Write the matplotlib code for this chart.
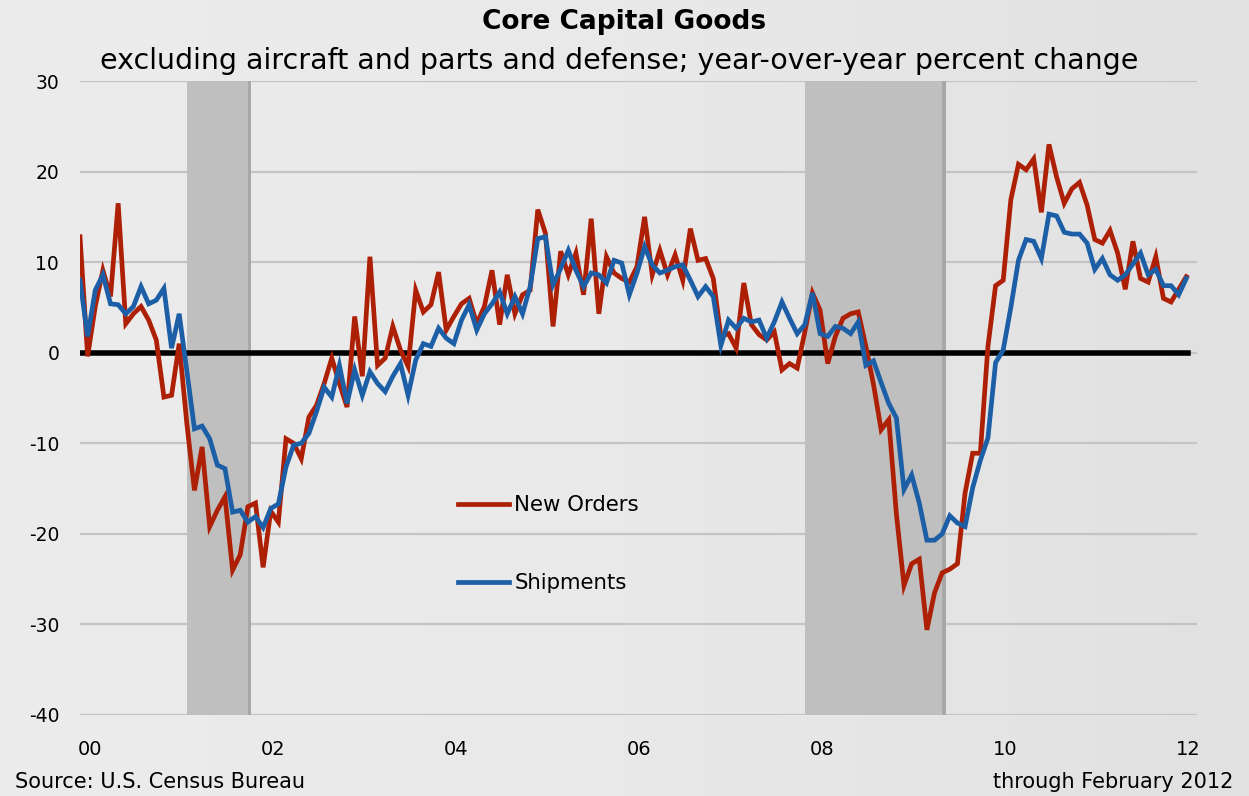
import numpy as np
import matplotlib
matplotlib.use("Agg")
import matplotlib.pyplot as plt
from matplotlib.colors import LinearSegmentedColormap

# Monthly data, Jan 2000 - Feb 2012 (year-over-year % change)
start_year = 2000
new_orders = [
    12.8, -0.4, 5.1, 9.1, 6.2, 16.5, 3.2, 4.3, 5.1, 3.6, 1.4, -4.9,
    -4.7, 1.0, -7.8, -15.2, -10.4, -19.2, -17.4, -15.9, -24.0, -22.3, -17.0, -16.6,
    -23.7, -17.5, -18.7, -9.5, -10.0, -11.7, -7.1, -5.8, -3.4, -0.6, -3.4, -6.0,
    4.0, -2.6, 10.6, -1.4, -0.6, 2.9, 0.3, -1.5, 6.9, 4.5, 5.3, 8.9,
    2.5, 4.0, 5.4, 6.0, 3.2, 5.1, 9.1, 3.1, 8.6, 4.3, 6.4, 6.9,
    15.8, 13.2, 2.9, 11.2, 8.6, 11.0, 6.4, 14.8, 4.3, 10.6, 8.8, 8.2,
    7.8, 9.5, 15.0, 8.6, 11.3, 8.6, 10.8, 8.0, 13.7, 10.2, 10.4, 8.2,
    1.8, 2.1, 0.5, 7.7, 3.1, 2.0, 1.4, 2.3, -1.9, -1.2, -1.7, 2.3,
    6.6, 4.7, -1.2, 1.8, 3.8, 4.3, 4.5, 0.7, -3.5, -8.5, -7.4, -17.8,
    -25.7, -23.3, -22.8, -30.6, -26.5, -24.3, -23.9, -23.3, -15.5, -11.1, -11.1, 0.7,
    7.4, 8.0, 16.9, 20.8, 20.2, 21.4, 15.5, 23.0, 19.4, 16.5, 18.1, 18.8,
    16.3, 12.5, 12.1, 13.5, 11.0, 7.0, 12.3, 8.2, 7.8, 10.6, 6.0, 5.6,
    7.0, 8.4,
]
shipments = [
    8.0, 1.8, 6.9, 8.6, 5.4, 5.3, 4.3, 5.1, 7.3, 5.4, 5.8, 7.1,
    0.5, 4.3, -2.0, -8.4, -8.1, -9.5, -12.4, -12.8, -17.6, -17.4, -18.7, -18.1,
    -19.3, -17.2, -16.7, -12.6, -10.2, -10.0, -8.9, -6.5, -3.8, -4.9, -1.4, -5.6,
    -1.9, -4.7, -2.1, -3.4, -4.3, -2.6, -1.2, -4.7, -0.8, 1.0, 0.7, 2.7,
    1.6, 1.0, 3.6, 5.3, 2.5, 4.3, 5.4, 6.7, 4.3, 6.2, 4.3, 7.3,
    12.6, 12.8, 7.5, 9.3, 11.3, 9.1, 7.3, 8.8, 8.6, 7.7, 10.2, 9.9,
    6.4, 8.8, 11.7, 9.7, 8.8, 9.1, 9.5, 9.7, 8.0, 6.2, 7.3, 6.2,
    0.8, 3.6, 2.7, 3.8, 3.4, 3.6, 1.6, 3.4, 5.6, 3.8, 2.1, 3.1,
    6.6, 2.1, 1.8, 2.9, 2.7, 2.1, 3.4, -1.4, -0.9, -3.3, -5.6, -7.2,
    -15.1, -13.5, -16.6, -20.7, -20.7, -20.0, -18.0, -18.8, -19.2, -14.9, -11.9, -9.4,
    -1.1, 0.3, 5.0, 10.2, 12.5, 12.3, 10.4, 15.3, 15.1, 13.3, 13.1, 13.1,
    12.1, 9.2, 10.4, 8.6, 8.0, 8.6, 9.8, 11.0, 8.6, 9.2, 7.4, 7.4,
    6.4, 8.2,
]
recessions = [(2001 + 2/12, 2001 + 10/12), (2007 + 11/12, 2009 + 5/12)]
tick_years = [2000, 2002, 2004, 2006, 2008, 2010, 2012]
tick_labels = ["00", "02", "04", "06", "08", "10", "12"]
y_ticks = [30, 20, 10, 0, -10, -20, -30, -40]

x = start_year + np.arange(len(new_orders)) / 12.0

W, H = 1249, 796
fig = plt.figure(figsize=(W / 100, H / 100), dpi=100)
fig.patch.set_facecolor("#e8e8e8")

# subtle background gradient
bg = fig.add_axes([0, 0, 1, 1], zorder=-10)
grad = np.linspace(0, 1, 256)[None, :]
cmap = LinearSegmentedColormap.from_list("bg", ["#ececec", "#e9e9e9", "#e1e1e1"])
bg.imshow(grad, aspect="auto", cmap=cmap, extent=[0, 1, 0, 1])
bg.axis("off")

ax = fig.add_axes([80 / W, 1 - 715 / H, (1197 - 80) / W, (715 - 81) / H])
ax.set_facecolor("none")
ax.set_xlim(2000, 2000 + 146.4 / 12)
ax.set_ylim(-40, 30)

for s in ax.spines.values():
    s.set_visible(False)

ax.set_yticks(y_ticks)
ax.set_yticklabels([str(v) for v in y_ticks], fontsize=13.5)
ax.yaxis.grid(True, color="#c4c4c4", lw=1.6, zorder=0)
ax.set_axisbelow(True)
ax.tick_params(axis="y", length=0, pad=15)
ax.set_xticks([y + 1.3 / 12 for y in tick_years])
ax.set_xticklabels(tick_labels, fontsize=14)
ax.tick_params(axis="x", length=0, pad=18)

for (a, b) in recessions:
    ax.axvspan(a, b, color="#bfbfbf", zorder=1, lw=0)
    ax.axvspan(b, b + 0.45 / 12, color="#a8a8a8", zorder=1, lw=0)

ax.axhline(0, color="black", lw=4, zorder=2, xmax=(2012 + 1.2 / 12 - 2000) / (146.4 / 12))

ax.plot(x, new_orders, color="#ad2005", lw=3.4, label="New Orders", zorder=3,
        solid_joinstyle="miter")
ax.plot(x, shipments, color="#1c5fa6", lw=3.4, label="Shipments", zorder=4,
        solid_joinstyle="miter")

leg = ax.legend(loc="upper left", bbox_to_anchor=((458 - 80) / 1117, 1 - (495 - 81) / 634),
                frameon=False, fontsize=15.3, labelspacing=2.75, handlelength=2.4,
                handletextpad=0.25, borderpad=0, borderaxespad=0)

fig.text(0.5, 1 - 22 / H, "Core Capital Goods", ha="center", va="center",
         fontsize=19, fontweight="bold")
fig.text(0.496, 1 - 61 / H,
         "excluding aircraft and parts and defense; year-over-year percent change",
         ha="center", va="center", fontsize=20.5)
fig.text(15 / W, 1 - 782 / H, "Source: U.S. Census Bureau", ha="left", va="center",
         fontsize=15)
fig.text(1233 / W, 1 - 782 / H, "through February 2012", ha="right", va="center",
         fontsize=15)

fig.savefig("out.png", dpi=100, facecolor=fig.get_facecolor())
